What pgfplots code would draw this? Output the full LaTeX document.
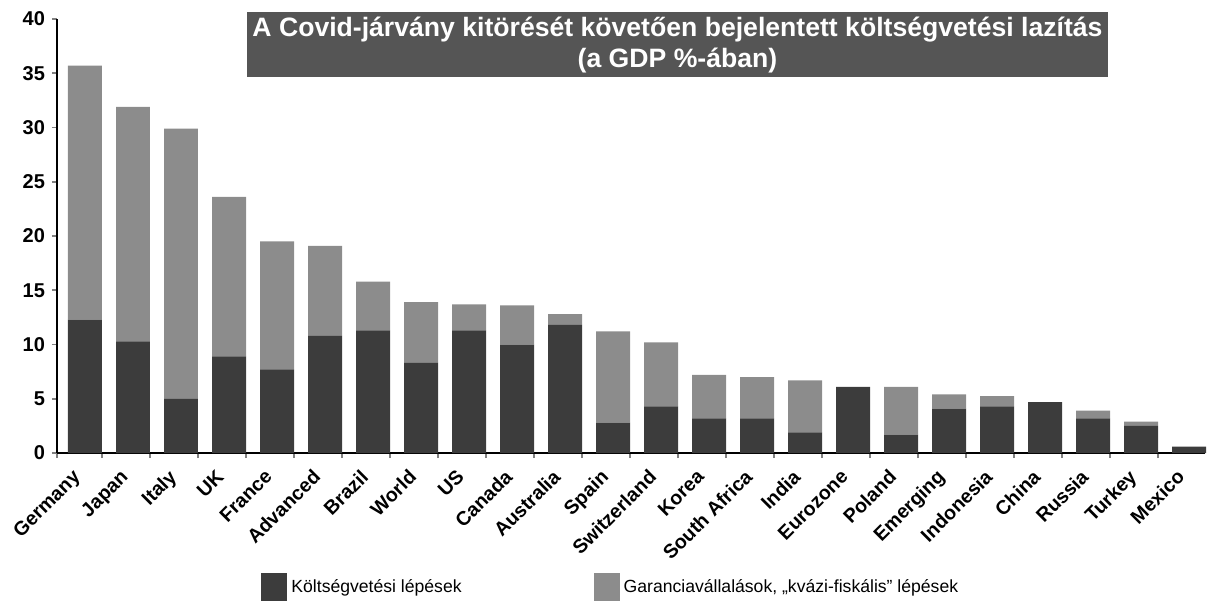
\documentclass[border=0pt]{standalone}
\usepackage{pgfplots}
\pgfplotsset{compat=1.18}
\usepackage{pgfplotstable}
\usepackage{fontspec}
\setmainfont{Liberation Sans}
\definecolor{darkbar}{HTML}{3C3C3C}
\definecolor{lightbar}{HTML}{8C8C8C}
\definecolor{titlebox}{HTML}{555555}
\pgfplotstableread{
x dark light
0 12.3 23.4
1 10.3 21.6
2 5.0 24.9
3 8.9 14.7
4 7.7 11.8
5 10.8 8.3
6 11.3 4.5
7 8.3 5.6
8 11.3 2.4
9 10.0 3.6
10 11.8 1.0
11 2.8 8.4
12 4.3 5.9
13 3.2 4.0
14 3.2 3.8
15 1.9 4.8
16 6.1 0
17 1.7 4.4
18 4.1 1.3
19 4.3 0.95
20 4.7 0
21 3.2 0.7
22 2.5 0.4
23 0.6 0
}\datatable
\begin{document}
\begin{tikzpicture}
\begin{axis}[
  at={(0pt,0pt)}, anchor=south west,
  scale only axis, width=574pt, height=217pt,
  xmin=-0.583, xmax=23.33, ymin=0, ymax=40,
  axis x line=bottom, axis y line=left,
  axis line style={-, line width=1pt},
  ybar stacked, bar width=0.708,
  ytick={0,5,...,40},
  xtick={0,...,23},
  xticklabels={Germany,Japan,Italy,UK,France,Advanced,Brazil,World,US,Canada,Australia,Spain,Switzerland,Korea,South Africa,India,Eurozone,Poland,Emerging,Indonesia,China,Russia,Turkey,Mexico},
  major x tick style={draw=none},
  minor xtick={-0.58,0.354,1.354,...,22.4},
  minor x tick style={line width=0.8pt},
  tick align=outside,
  major tick length=2.5pt, minor tick length=2.5pt,
  y tick style={line width=0.8pt},
  /pgf/number format/assume math mode=true,
  yticklabel style={font=\bfseries\fontsize{10}{12}\selectfont},
  x tick label style={rotate=45, anchor=north east, font=\bfseries\fontsize{9.8}{12}\selectfont, inner sep=1pt, yshift=2.3pt, xshift=-7.3pt},
  legend style={at={(rel axis cs:0.1725,-0.309)}, anchor=west, draw=none, fill=none,
    legend columns=2, font=\fontsize{8.8}{10}\selectfont,
    /tikz/every even column/.append style={column sep=64pt}},
  clip=false,
]
\addplot[fill=darkbar, draw=none, legend image code/.code={\fill[darkbar] (0pt,-7pt) rectangle (13pt,7pt);}] table[x=x, y=dark] {\datatable};
\addlegendentry{Költségvetési lépések}
\addplot[fill=lightbar, draw=none, legend image code/.code={\fill[lightbar] (0pt,-7pt) rectangle (13pt,7pt);}] table[x=x, y=light] {\datatable};
\addlegendentry{Garanciavállalások, „kvázi-fiskális'' lépések}
\node[fill=titlebox, text=white, font=\bfseries\fontsize{13.3}{15.5}\selectfont, align=center, minimum width=430.5pt, minimum height=32.5pt, inner sep=0pt] at (rel axis cs:0.5405,0.941) {A Covid-járvány kitörését követően bejelentett költségvetési lazítás\\(a GDP \%-ában)};
\end{axis}
\pgfresetboundingbox
\path (-28.5pt,-77pt) rectangle (575.5pt,226.5pt);
\end{tikzpicture}
\end{document}
